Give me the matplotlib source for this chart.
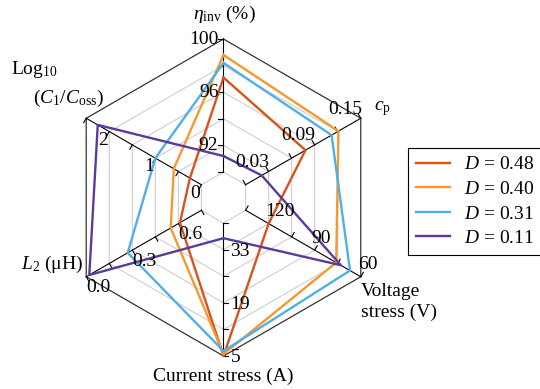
import numpy as np
import matplotlib.pyplot as plt
from matplotlib.lines import Line2D

plt.rcParams['font.family'] = ['Liberation Serif', 'DejaVu Serif']
plt.rcParams['mathtext.fontset'] = 'custom'
plt.rcParams['mathtext.rm'] = 'Liberation Serif'
plt.rcParams['mathtext.it'] = 'Liberation Serif:italic'
plt.rcParams['font.size'] = 14

# axis order: efficiency, cp, voltage stress, current stress, L2, log10(C1/Coss)
angles = np.deg2rad([90, 30, -30, -90, -150, 150])
inner_vals = [90, 0.0, 135, 40, 0.75, -0.5]     # value at the inner ring
outer_vals = [100, 0.15, 60, 5, 0.0, 2.0]       # value at the outer ring
tick_labels = [['92', '96', '100'],
               ['0.03', '0.09', '0.15'],
               ['120', '90', '60'],
               ['33', '19', '5'],
               ['0.6', '0.3', '0.0'],
               ['0', '1', '2']]

duty = ['0.48', '0.40', '0.31', '0.11']
eta_inv = [97.1, 98.8, 98.2, 91.2]
c_p = [0.078, 0.121, 0.112, 0.021]
v_stress = [120, 76, 67, 73]
i_stress = [5.0, 5.5, 6.3, 36]
l_2 = [0.61, 0.55, 0.27, 0.02]
log_c = [-0.25, 0.1, 0.5, 1.75]

colors = ['#D95319', '#F7982F', '#4FAFE6', '#5B3A9A']

W, H = 540, 389
cx, cy, R = 223.5, 197.5, 158.5      # centre and outer radius in pixels
r0 = 25.5 / R                         # radius of the innermost ring
n_rings = 5


def to_radius(k, v):
    f = (v - inner_vals[k]) / (outer_vals[k] - inner_vals[k])
    return r0 + f * (1 - r0)


fig = plt.figure(figsize=(W / 100, H / 100), dpi=100)
ax = fig.add_axes([0, 0, 1, 1])
ax.set_xlim(-cx / R, (W - cx) / R)
ax.set_ylim(-(H - cy) / R, cy / R)
ax.set_aspect('equal')
ax.axis('off')

# hexagonal grid rings
ring_r = r0 + np.arange(n_rings + 1) * (1 - r0) / n_rings
closed = np.append(angles, angles[0])
for i, rr in enumerate(ring_r):
    last = i == n_rings
    ax.plot(rr * np.cos(closed), rr * np.sin(closed),
            color='#333333' if last else '#CFCFCF',
            lw=0.9 if last else 0.8, zorder=1)

# spokes with ticks
tick_len = 5 / R
for k, a in enumerate(angles):
    d = np.array([np.cos(a), np.sin(a)])
    p = np.array([-d[1], d[0]])
    ax.plot([r0 * d[0], d[0]], [r0 * d[1], d[1]], color='black', lw=0.8, zorder=2)
    for rr in ring_r:
        q = rr * d
        ax.plot([q[0], q[0] + tick_len * p[0]], [q[1], q[1] + tick_len * p[1]],
                color='black', lw=0.8, zorder=2)

# tick labels: (ha, dx px, dy px)
label_style = [('right', -5, 0), ('right', 1, 9), ('left', -3, 12),
               ('left', 7, -2), ('left', 0, -11), ('left', 12, -22)]
for k, a in enumerate(angles):
    ha, dx, dy = label_style[k]
    for j, txt in enumerate(tick_labels[k]):
        rr = ring_r[2 * j + 1]
        ax.annotate(txt, (rr * np.cos(a), rr * np.sin(a)), xytext=(dx, dy),
                    textcoords='offset pixels', ha=ha, va='center', zorder=5)

# axis titles
tips = [(np.cos(a), np.sin(a)) for a in angles]
ax.annotate(r'$\eta_{\mathrm{inv}}$ (%)', tips[0], xytext=(1, 25),
            textcoords='offset pixels', ha='center', va='center')
ax.annotate(r'$c_{\mathrm{p}}$', tips[1], xytext=(13, 10),
            textcoords='offset pixels', ha='left', va='center')
ax.annotate('Voltage\nstress (V)', tips[2], xytext=(0, -6),
            textcoords='offset pixels', ha='left', va='top', linespacing=1.3)
ax.annotate('Current stress (A)', tips[3], xytext=(0, -20),
            textcoords='offset pixels', ha='center', va='center')
ax.annotate(r'$L_{\mathrm{2}}$ (μH)', tips[4], xytext=(-3, 12),
            textcoords='offset pixels', ha='right', va='center')
ax.annotate(r'Log$_{\mathrm{10}}$', tips[5], xytext=(-75, 49),
            textcoords='offset pixels', ha='left', va='center')
ax.annotate(r'$(C_{\mathrm{1}}/C_{\mathrm{oss}})$', tips[5], xytext=(-53, 20),
            textcoords='offset pixels', ha='left', va='center')

# data polygons
handles = []
for s in range(len(duty)):
    vals = [eta_inv[s], c_p[s], v_stress[s], i_stress[s], l_2[s], log_c[s]]
    rads = np.array([to_radius(k, v) for k, v in enumerate(vals)])
    rads = np.append(rads, rads[0])
    ax.plot(rads * np.cos(closed), rads * np.sin(closed), color=colors[s],
            lw=1.7, zorder=4)
    handles.append(Line2D([], [], color=colors[s], lw=1.7))

leg = ax.legend(handles, [r'$D$ = ' + d for d in duty], loc='upper left',
                bbox_to_anchor=(408 / W, 1 - 148 / H), bbox_transform=fig.transFigure,
                borderaxespad=0, fancybox=False, edgecolor='black', framealpha=1,
                borderpad=0.4, handlelength=1.75, handletextpad=0.75,
                labelspacing=0.36)
leg.get_frame().set_linewidth(0.8)

fig.savefig('out.png', dpi=100)
